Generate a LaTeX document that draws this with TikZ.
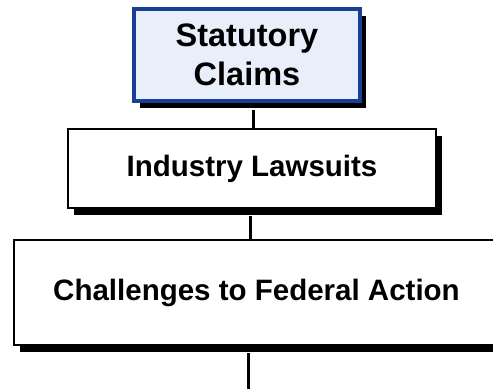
\documentclass[tikz,border=0pt]{standalone}
\usepackage{fontspec}
\setmainfont{Liberation Sans}
\usetikzlibrary{shadows}
\definecolor{claimblue}{RGB}{24,62,150}
\definecolor{claimfill}{RGB}{232,238,250}

\begin{document}
\begin{tikzpicture}[x=1pt,y=-1pt,
  tierbox/.style={rectangle,draw,line width=2pt,fill=white,inner sep=0pt,align=center,
    font=\bfseries\fontsize{29.5}{34}\selectfont,
    drop shadow={shadow xshift=6pt,shadow yshift=-7pt,fill=black,opacity=1}},
  link/.style={line width=3pt}]
\useasboundingbox (0,0) rectangle (493,390);

 \node[tierbox,draw=claimblue,fill=claimfill,line width=4pt,minimum width=226pt,minimum height=92pt,
   font=\bfseries\fontsize{32.5}{39}\selectfont] (claims) at (247,55) {Statutory\\Claims};
  \node[tierbox,minimum width=368pt,minimum height=79pt] (lawsuits) at (252,168.5) {Industry Lawsuits};
    \node[tierbox,minimum width=485pt,minimum height=105pt] (federal) at (256.5,292.5) {Challenges to Federal Action};
 \coordinate (tail) at (248,389);

       \draw[link] ([xshift=6pt,yshift=-7pt]claims.south) -- ([xshift=6pt]claims.south |- lawsuits.north);
         \draw[link] ([xshift=-2pt,yshift=-7pt]lawsuits.south) -- ([xshift=-2pt]lawsuits.south |- federal.north);
           \draw[link] (federal.south -| tail) ++(0,7) -- (tail);
\end{tikzpicture}
\end{document}
